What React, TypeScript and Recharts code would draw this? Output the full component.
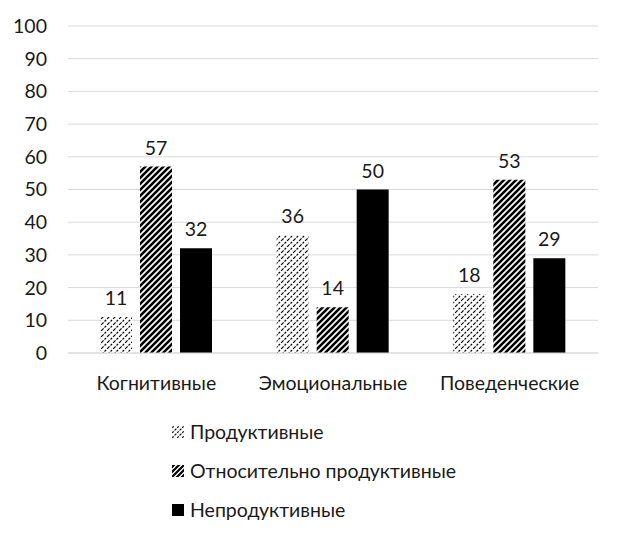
import React from "react";
import { BarChart, Bar, XAxis, YAxis, CartesianGrid, LabelList } from "recharts";

const categories = ["Когнитивные", "Эмоциональные", "Поведенческие"];
const seriesNames = ["Продуктивные", "Относительно продуктивные", "Непродуктивные"];
const productive = [11, 36, 18];
const relProductive = [57, 14, 53];
const unproductive = [32, 50, 29];
const yTicks = [0, 10, 20, 30, 40, 50, 60, 70, 80, 90, 100];

const data = categories.map((c, i) => ({
  name: c,
  s0: productive[i],
  s1: relProductive[i],
  s2: unproductive[i],
}));

const fills = ["url(#patLight)", "url(#patDense)", "#000000"];
const FONT = "Lato, 'Open Sans', sans-serif";
const TEXT = "#1a1a1a";
const FS = 19.5;

const Patterns = () => (
  <defs>
    <pattern id="patLight" patternUnits="userSpaceOnUse" width="6" height="6">
      <rect width="6" height="6" fill="#ffffff" />
      <path d="M0,6 L6,0 M-1,1 L1,-1 M5,7 L7,5" stroke="#000" strokeWidth="1.2" strokeDasharray="2.2 1.4" />
    </pattern>
    <pattern id="patDense" patternUnits="userSpaceOnUse" width="6" height="6">
      <rect width="6" height="6" fill="#ffffff" />
      <path d="M0,6 L6,0 M-1,1 L1,-1 M5,7 L7,5" stroke="#000" strokeWidth="2.6" />
    </pattern>
  </defs>
);

const LegendIcon = ({ i }: { i: number }) => (
  <svg width="16" height="14" style={{ marginRight: 4 }}>
    <defs>
      <pattern id={"lg" + i} patternUnits="userSpaceOnUse" width="5" height="5">
        <rect width="5" height="5" fill="#ffffff" />
        <path
          d="M0,5 L5,0 M-1,1 L1,-1 M4,6 L6,4"
          stroke="#000"
          strokeWidth={i === 0 ? 1.1 : 2.2}
          strokeDasharray={i === 0 ? "2 1.2" : undefined}
        />
      </pattern>
    </defs>
    <rect x="2" y="1" width="12" height="12" fill={i === 2 ? "#000" : `url(#lg${i})`} />
  </svg>
);

export default function App() {
  return (
    <div style={{ position: "absolute", left: 0, top: 0, width: 624, height: 541, background: "#fff", fontFamily: FONT }}>
      <BarChart
        width={624}
        height={400}
        data={data}
        margin={{ top: 26, right: 26, left: 8, bottom: 7 }}
        barSize={32}
        barGap={8}
      >
        <Patterns />
        <CartesianGrid vertical={false} stroke="#d9d9d9" strokeWidth={1} />
        <XAxis
          dataKey="name"
          axisLine={{ stroke: "#d9d9d9" }}
          tickLine={false}
          tick={{ fill: TEXT, fontSize: FS, fontFamily: FONT }}
          tickMargin={17}
          height={40}
        />
        <YAxis
          domain={[0, 100]}
          ticks={yTicks}
          axisLine={false}
          tickLine={false}
          tick={{ fill: TEXT, fontSize: FS, fontFamily: FONT }}
          tickMargin={15}
          width={60}
        />
        {["s0", "s1", "s2"].map((k, i) => (
          <Bar key={k} dataKey={k} name={seriesNames[i]} fill={fills[i]} isAnimationActive={false}>
            <LabelList dataKey={k} position="top" offset={12} fill={TEXT} fontSize={FS} fontFamily={FONT} />
          </Bar>
        ))}
      </BarChart>
      <div style={{ position: "absolute", left: 170, top: 412 }}>
        {seriesNames.map((n, i) => (
          <div key={n} style={{ display: "flex", alignItems: "center", height: 39, fontSize: FS, color: TEXT }}>
            <LegendIcon i={i} />
            <span>{n}</span>
          </div>
        ))}
      </div>
    </div>
  );
}
